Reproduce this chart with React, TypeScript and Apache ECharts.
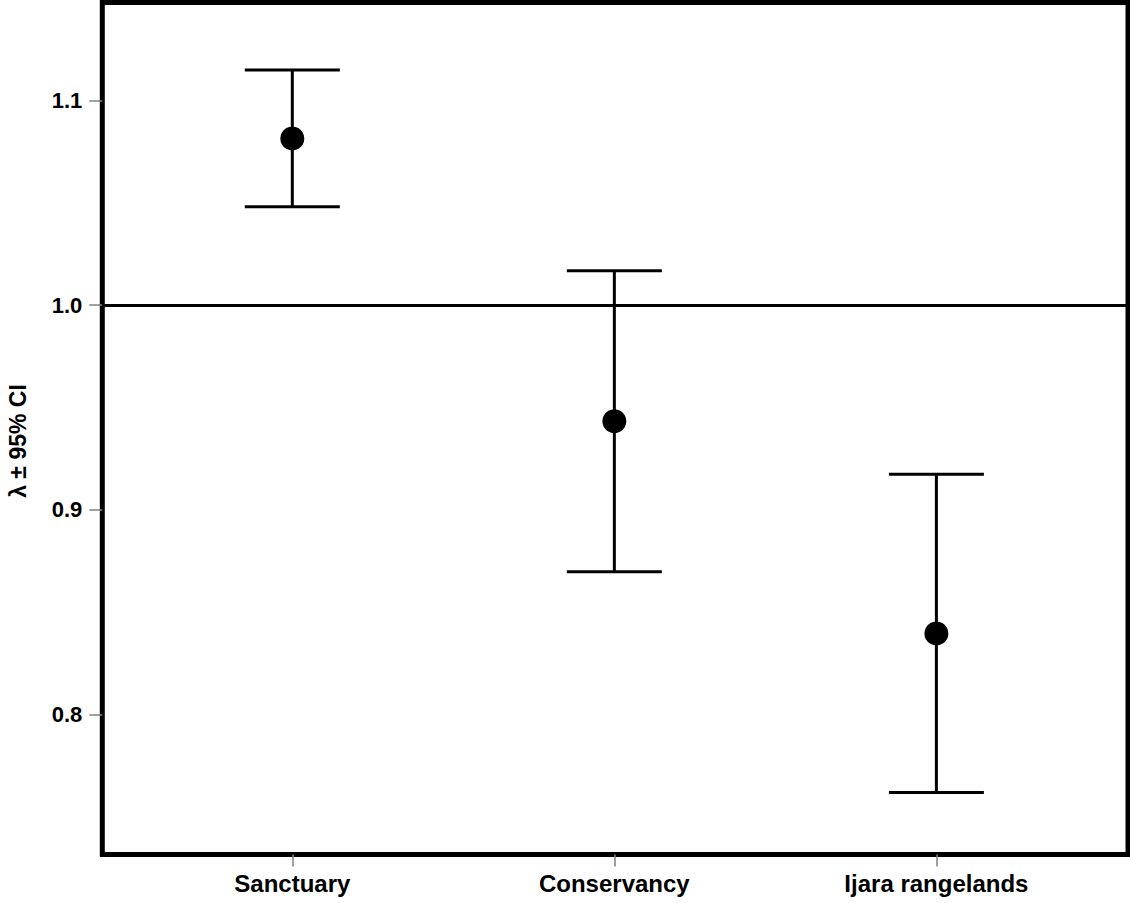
import React, { useEffect, useRef } from "react";
import * as echarts from "echarts";

const categories = ["Sanctuary", "Conservancy", "Ijara rangelands"];
const lambda = [1.0814, 0.9433, 0.8396];
const lower = [1.048, 0.8697, 0.7619];
const upper = [1.1148, 1.0168, 0.9174];
const yTicks = [0.8, 0.9, 1.0, 1.1];
const referenceLine = 1.0;
const yTitle = "λ ± 95% CI";

const FONT = "'Liberation Sans', Arial, sans-serif";

export default function App() {
  const ref = useRef<HTMLDivElement>(null);

  useEffect(() => {
    if (!ref.current) return;
    const chart = echarts.init(ref.current, null, { renderer: "svg" });
    const xPos = categories.map((_, i) => i + 1);

    chart.setOption({
      animation: false,
      backgroundColor: "#fff",
      grid: {
        show: true,
        left: 102.3,
        right: 2,
        top: 2.5,
        bottom: 48.5,
        borderColor: "#000",
        borderWidth: 5,
        backgroundColor: "transparent",
      },
      xAxis: {
        type: "value",
        min: 0.41,
        max: 3.595,
        axisLine: { show: false },
        splitLine: { show: false },
        axisTick: {
          show: true,
          customValues: xPos,
          length: 12,
          lineStyle: { color: "#808080", width: 1.5 },
        },
        axisLabel: {
          customValues: xPos,
          formatter: (v: number) => categories[Math.round(v) - 1] ?? "",
          margin: 17,
          fontFamily: FONT,
          fontWeight: "bold",
          fontSize: 24,
          color: "#000",
        },
      },
      yAxis: {
        type: "value",
        min: 0.7316,
        max: 1.1478,
        axisLine: { show: false },
        splitLine: { show: false },
        axisTick: {
          show: true,
          customValues: yTicks,
          length: 13,
          lineStyle: { color: "#808080", width: 1.5 },
        },
        axisLabel: {
          customValues: yTicks,
          formatter: (v: number) => v.toFixed(1),
          margin: 20,
          fontFamily: FONT,
          fontWeight: "bold",
          fontSize: 22,
          color: "#000",
        },
      },
      graphic: [
        {
          type: "text",
          x: 18,
          y: 441,
          rotation: Math.PI / 2,
          style: {
            text: yTitle,
            fontFamily: FONT,
            fontWeight: "bold",
            fontSize: 23,
            fill: "#000",
            textAlign: "center",
            textVerticalAlign: "middle",
          },
        },
      ],
      series: [
        {
          type: "custom",
          data: categories.map((_, i) => [xPos[i], lower[i], upper[i]]),
          encode: { x: 0, y: [1, 2] },
          renderItem: (params: any, api: any) => {
            const x = api.value(0);
            const pLo = api.coord([x, api.value(1)]);
            const pHi = api.coord([x, api.value(2)]);
            const hw = 47.5;
            const st = { stroke: "#000", lineWidth: 3 };
            return {
              type: "group",
              children: [
                { type: "line", shape: { x1: pLo[0], y1: pLo[1], x2: pHi[0], y2: pHi[1] }, style: st },
                { type: "line", shape: { x1: pHi[0] - hw, y1: pHi[1], x2: pHi[0] + hw, y2: pHi[1] }, style: st },
                { type: "line", shape: { x1: pLo[0] - hw, y1: pLo[1], x2: pLo[0] + hw, y2: pLo[1] }, style: st },
              ],
            };
          },
          z: 2,
        },
        {
          type: "scatter",
          data: categories.map((_, i) => [xPos[i], lambda[i]]),
          symbol: "circle",
          symbolSize: 24,
          itemStyle: { color: "#000", opacity: 1 },
          z: 3,
          markLine: {
            silent: true,
            symbol: ["none", "none"],
            label: { show: false },
            lineStyle: { color: "#000", width: 3, type: "solid", opacity: 1 },
            data: [{ yAxis: referenceLine }],
          },
        },
      ],
    });

    return () => chart.dispose();
  }, []);

  return (
    <div
      ref={ref}
      style={{ position: "absolute", left: 0, top: 0, width: 1130, height: 903 }}
    />
  );
}
